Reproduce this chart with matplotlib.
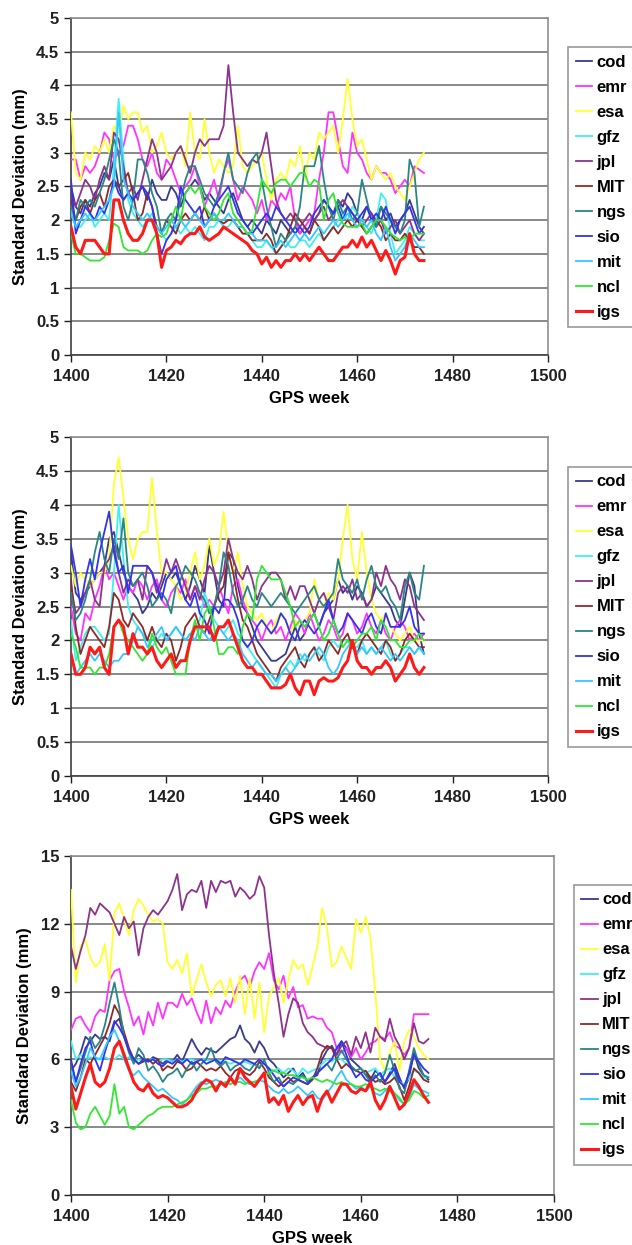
import numpy as np
import matplotlib
matplotlib.use("Agg")
import matplotlib.pyplot as plt

plt.rcParams['font.family'] = ['Liberation Sans', 'DejaVu Sans']
plt.rcParams['font.weight'] = 'bold'

weeks = np.arange(1400, 1475)

names = ["cod", "emr", "esa", "gfz", "jpl", "MIT", "ngs", "sio", "mit", "ncl", "igs"]
colors = ["#3a3a8c", "#ff33ff", "#ffff33", "#40f0f0", "#8c338c", "#8c2a2a",
          "#2a8585", "#3333ee", "#33c8ff", "#33e633", "#ff1a1a"]

# ---- top panel ----
cod1 = [2.5, 2.2, 2.1, 2.3, 2.2, 2.4, 2.5, 2.7, 2.6, 2.9, 2.5, 2.3, 2.4, 2.3, 2.4,
        2.5, 2.3, 2.6, 2.4, 2.3, 2.3, 2.5, 2.4, 2.2, 2.4, 2.5, 2.6, 2.5, 2.3, 2.4,
        2.3, 2.2, 2.1, 2.3, 2.4, 2.2, 2.0, 1.9, 2.0, 1.9, 1.8, 2.0, 1.9, 1.8, 2.0,
        1.9, 1.8, 1.9, 1.8, 1.9, 1.8, 2.0, 2.1, 2.3, 2.2, 2.1, 2.3, 2.2, 2.4, 2.3,
        2.1, 2.0, 2.2, 2.1, 2.0, 2.2, 2.0, 2.1, 1.9, 2.0, 2.1, 2.3, 2.1, 1.9, 1.8]
emr1 = [2.9, 2.9, 2.6, 2.8, 2.7, 2.8, 3.0, 3.3, 3.2, 2.9, 3.0, 3.1, 3.4, 3.4, 3.2,
        2.9, 2.8, 3.0, 2.7, 2.6, 2.9, 2.8, 2.6, 2.4, 2.5, 2.6, 2.8, 2.5, 2.2, 2.4,
        2.6, 2.3, 2.7, 2.9, 2.6, 2.3, 2.5, 2.4, 2.3, 2.1, 2.3, 2.0, 2.3, 2.2, 2.4,
        2.3, 2.5, 2.0, 1.8, 1.9, 2.0, 2.1, 2.6, 3.0, 3.6, 3.6, 3.2, 2.8, 2.7, 3.3,
        3.0, 2.9, 2.7, 2.6, 2.8, 2.7, 2.7, 2.6, 2.4, 2.5, 2.6, 2.5, 2.8, 2.75, 2.7]
esa1 = [3.6, 2.7, 2.6, 3.0, 2.9, 3.1, 3.0, 3.2, 3.0, 3.4, 3.3, 3.7, 3.5, 3.6, 3.6,
        3.3, 3.4, 3.0, 3.1, 3.3, 3.0, 2.9, 3.0, 3.1, 2.8, 3.6, 3.0, 2.9, 3.5, 3.0,
        2.7, 2.9, 2.8, 2.7, 2.8, 3.4, 2.8, 2.7, 2.8, 2.9, 3.0, 2.6, 2.3, 2.6, 2.7,
        2.6, 2.9, 2.8, 3.1, 2.6, 3.0, 2.9, 3.3, 3.2, 3.3, 3.4, 3.0, 3.5, 4.1, 3.5,
        3.1, 3.2, 2.9, 2.6, 2.8, 2.7, 2.6, 2.7, 2.5, 2.4, 2.3, 2.5, 2.7, 2.9, 3.0]
gfz1 = [2.2, 1.9, 1.9, 2.0, 2.1, 1.9, 2.0, 2.1, 2.0, 2.8, 3.8, 2.9, 2.3, 2.1, 2.0,
        1.9, 2.0, 2.1, 1.9, 1.8, 1.7, 1.8, 1.9, 1.8, 1.9, 1.8, 1.9, 1.8, 1.7, 1.9,
        1.9, 2.0, 1.9, 1.9, 2.0, 1.9, 1.8, 1.8, 1.7, 1.6, 1.6, 1.7, 1.6, 1.5, 1.6,
        1.7, 1.6, 1.6, 1.7, 1.7, 1.6, 1.7, 1.8, 1.7, 1.8, 1.9, 2.0, 2.1, 2.0, 2.2,
        2.1, 2.0, 1.9, 1.8, 2.0, 2.4, 2.3, 1.8, 1.5, 1.6, 1.7, 1.9, 1.8, 1.7, 1.7]
jpl1 = [2.4, 2.2, 2.4, 2.6, 2.5, 2.3, 2.6, 2.8, 2.6, 3.3, 3.2, 2.8, 2.4, 2.5, 2.3,
        2.6, 2.9, 3.2, 3.0, 2.6, 2.7, 2.8, 3.0, 3.1, 2.9, 2.7, 3.0, 3.2, 3.1, 3.2,
        3.2, 3.2, 3.4, 4.3, 3.6, 3.0, 2.9, 2.8, 2.9, 2.85, 3.0, 3.3, 2.8, 2.3, 2.1,
        2.0, 2.1, 2.0, 1.9, 2.0, 2.1, 2.0, 2.1, 2.2, 2.0, 2.1, 2.2, 2.3, 2.2, 2.1,
        2.0, 1.9, 2.0, 2.1, 1.9, 2.0, 1.8, 1.9, 2.0, 1.8, 1.9, 2.0, 1.8, 1.7, 1.8]
MIT1 = [2.3, 2.0, 2.2, 2.3, 2.1, 2.3, 2.4, 2.2, 2.5, 2.6, 2.5, 2.6, 2.7, 2.4, 2.0,
        2.1, 2.4, 2.2, 1.9, 1.8, 2.0, 1.9, 1.8, 2.0, 2.1, 2.0, 2.1, 2.0, 2.2, 2.0,
        2.1, 2.0, 1.95, 2.0, 2.0, 1.9, 1.8, 1.8, 1.7, 1.7, 1.7, 1.8, 1.7, 1.5, 1.6,
        1.7, 1.9, 2.1, 2.0, 1.9, 1.8, 2.0, 1.9, 1.7, 1.8, 1.9, 1.8, 1.9, 2.0, 1.9,
        2.0, 1.9, 1.8, 1.9, 2.0, 1.9, 1.7, 1.8, 1.7, 1.7, 1.8, 1.7, 1.6, 1.6, 1.5]
ngs1 = [2.2, 2.0, 2.3, 2.2, 2.3, 2.2, 2.4, 2.6, 2.9, 3.2, 3.0, 2.2, 2.0, 2.3, 2.9,
        2.9, 2.7, 2.4, 2.2, 1.8, 2.0, 2.1, 2.0, 2.3, 2.6, 2.8, 2.8, 2.6, 2.4, 2.3,
        2.2, 2.4, 2.7, 3.0, 2.6, 2.5, 2.4, 2.7, 2.9, 3.0, 2.6, 2.2, 1.9, 1.6, 1.8,
        1.7, 1.8, 1.9, 2.2, 2.8, 2.8, 2.8, 3.1, 2.6, 2.2, 2.0, 2.3, 2.1, 2.2, 2.0,
        2.1, 2.6, 2.3, 2.0, 1.9, 2.2, 2.1, 2.0, 1.9, 1.8, 2.0, 2.9, 2.7, 1.9, 2.2]
sio1 = [2.6, 1.8, 2.0, 2.2, 2.1, 2.0, 2.2, 2.1, 2.3, 2.6, 2.4, 2.3, 2.4, 2.3, 2.4,
        2.5, 2.4, 2.2, 1.8, 1.5, 1.7, 1.8, 2.0, 2.5, 2.3, 2.2, 2.1, 2.2, 1.9, 2.0,
        2.2, 2.3, 2.4, 2.5, 2.3, 2.1, 2.0, 1.9, 1.8, 1.9, 2.0, 2.1, 2.0, 2.2, 2.1,
        2.0, 1.9, 1.8, 1.9, 1.8, 1.9, 2.1, 2.2, 2.3, 2.2, 2.1, 2.2, 2.0, 2.2, 2.1,
        2.0, 2.1, 2.2, 2.0, 2.1, 2.0, 2.2, 2.0, 1.8, 2.0, 2.1, 2.2, 2.0, 1.8, 1.9]
mit1 = [2.1, 1.9, 2.0, 2.1, 2.0, 2.0, 2.1, 2.2, 2.3, 2.5, 3.6, 2.6, 2.4, 2.2, 2.1,
        2.0, 2.1, 2.0, 1.9, 1.8, 1.9, 2.0, 1.9, 2.0, 1.9, 2.0, 2.1, 2.0, 1.9, 2.0,
        2.1, 2.0, 2.0, 2.1, 2.0, 1.9, 1.9, 1.8, 1.8, 1.7, 1.7, 1.7, 1.6, 1.6, 1.7,
        1.6, 1.7, 1.8, 1.7, 1.8, 1.7, 1.8, 1.9, 1.8, 1.9, 2.0, 1.9, 2.0, 2.1, 2.0,
        1.9, 2.0, 1.9, 2.0, 1.8, 1.7, 1.9, 1.6, 1.4, 1.5, 1.6, 1.8, 1.7, 1.6, 1.6]
ncl1 = [1.8, 1.5, 1.5, 1.45, 1.4, 1.4, 1.4, 1.45, 1.7, 1.95, 1.9, 1.6, 1.55, 1.55, 1.55,
        1.5, 1.55, 1.7, 1.8, 1.75, 1.8, 2.0, 2.2, 2.0, 2.4, 2.5, 2.4, 2.5, 2.2, 2.1,
        2.0, 2.1, 2.3, 2.4, 2.1, 2.0, 1.9, 1.8, 1.85, 2.2, 2.6, 2.5, 2.4, 2.55, 2.6,
        2.6, 2.5, 2.6, 2.7, 2.7, 2.5, 2.6, 2.55, 2.0, 2.3, 2.4, 2.1, 1.95, 1.9, 1.9,
        1.9, 1.95, 1.8, 1.9, 2.0, 2.0, 1.9, 1.8, 1.75, 1.7, 1.75, 1.7, 1.8, 1.8, 1.8]
igs1 = [1.9, 1.6, 1.5, 1.7, 1.7, 1.7, 1.6, 1.5, 1.5, 2.3, 2.3, 2.0, 1.8, 1.7, 1.7,
        1.8, 2.0, 2.0, 1.8, 1.3, 1.55, 1.6, 1.7, 1.65, 1.75, 1.8, 1.8, 1.9, 1.75, 1.7,
        1.75, 1.8, 1.9, 1.85, 1.8, 1.75, 1.7, 1.65, 1.55, 1.5, 1.35, 1.45, 1.3, 1.4, 1.3,
        1.4, 1.4, 1.5, 1.4, 1.5, 1.4, 1.5, 1.6, 1.5, 1.4, 1.4, 1.5, 1.6, 1.6, 1.7,
        1.6, 1.75, 1.6, 1.7, 1.55, 1.4, 1.55, 1.4, 1.2, 1.4, 1.45, 1.8, 1.5, 1.4, 1.4]

# ---- middle panel ----
cod2 = [3.3, 2.7, 2.6, 2.7, 2.8, 2.9, 3.0, 3.1, 3.5, 3.6, 3.3, 3.0, 2.8, 2.7, 2.6,
        2.4, 2.5, 2.7, 2.6, 2.8, 3.0, 2.9, 3.0, 2.8, 2.6, 2.8, 3.1, 2.9, 2.7, 3.4,
        3.0, 2.6, 2.5, 3.3, 3.2, 2.8, 2.5, 2.4, 2.2, 2.0, 1.9, 1.8, 1.7, 1.7, 1.75,
        1.8, 2.0, 2.2, 2.0, 2.1, 2.3, 2.4, 2.2, 2.4, 2.5, 2.6, 2.9, 2.7, 2.8, 2.6,
        2.8, 2.7, 2.5, 2.6, 2.8, 2.7, 2.6, 2.5, 2.3, 2.2, 2.6, 3.0, 2.8, 2.1, 1.8]
emr2 = [2.5, 2.1, 2.0, 2.4, 2.3, 2.6, 2.8, 3.1, 2.9, 3.0, 2.8, 2.6, 2.8, 2.7, 2.9,
        2.8, 2.6, 2.8, 2.9, 2.6, 2.5, 2.7, 2.8, 2.7, 2.9, 2.6, 2.8, 2.7, 2.5, 2.6,
        2.5, 2.8, 2.6, 2.4, 2.8, 2.9, 2.6, 2.4, 2.3, 2.2, 2.0, 2.2, 2.3, 2.1, 2.2,
        2.0, 2.2, 2.4, 2.3, 2.1, 2.4, 2.2, 2.0, 2.1, 2.3, 2.2, 2.0, 2.1, 2.4, 2.3,
        2.1, 2.2, 2.4, 2.2, 2.1, 2.3, 2.1, 2.0, 2.2, 2.3, 2.2, 2.0, 2.1, 2.0, 2.1]
esa2 = [3.1, 2.8, 3.0, 2.9, 2.8, 2.9, 3.0, 3.0, 3.2, 4.3, 4.7, 4.1, 3.5, 3.2, 3.5,
        3.6, 3.6, 4.4, 3.6, 3.0, 3.0, 2.9, 2.8, 2.6, 2.7, 3.0, 3.3, 2.9, 3.1, 3.5,
        3.1, 3.3, 3.9, 3.3, 3.0, 3.3, 2.8, 2.5, 2.4, 2.3, 2.4, 2.2, 2.1, 2.3, 2.4,
        2.3, 2.1, 2.3, 2.2, 2.3, 2.4, 2.9, 2.6, 2.5, 2.7, 2.6, 2.9, 3.5, 4.0, 3.2,
        2.9, 3.6, 3.0, 2.6, 2.4, 2.3, 2.4, 2.2, 2.1, 2.0, 2.1, 2.2, 2.0, 2.0, 2.0]
gfz2 = [2.3, 1.7, 1.9, 2.1, 2.2, 2.2, 2.1, 2.0, 2.1, 3.0, 4.0, 3.2, 2.5, 2.3, 2.2,
        2.1, 2.0, 1.9, 2.0, 2.1, 2.0, 2.1, 2.2, 2.1, 2.0, 2.1, 2.2, 2.3, 2.7, 2.5,
        2.3, 2.2, 2.1, 2.2, 2.3, 2.1, 2.0, 1.9, 1.8, 1.7, 1.6, 1.5, 1.4, 1.3, 1.5,
        1.6, 1.7, 1.6, 1.8, 1.7, 1.8, 1.9, 1.8, 1.7, 1.9, 2.0, 1.9, 2.0, 2.0, 1.9,
        1.9, 2.0, 1.8, 1.9, 1.8, 1.9, 2.0, 1.8, 1.7, 1.8, 1.9, 1.9, 1.8, 1.9, 1.8]
jpl2 = [2.8, 2.4, 2.5, 2.7, 2.9, 2.6, 2.5, 3.1, 3.2, 3.4, 3.0, 2.7, 2.9, 2.8, 2.9,
        2.6, 3.1, 3.0, 2.7, 2.9, 3.2, 3.0, 3.2, 3.0, 2.8, 2.6, 2.8, 2.6, 2.9, 3.1,
        3.0, 2.8, 3.0, 3.5, 3.2, 3.0, 2.9, 3.1, 2.9, 2.6, 2.8, 2.9, 3.0, 3.0, 2.9,
        2.6, 2.8, 2.6, 2.8, 2.8, 2.6, 2.4, 2.6, 2.7, 2.5, 2.3, 2.7, 2.8, 2.7, 2.9,
        2.6, 2.7, 2.5, 2.6, 3.0, 2.8, 3.1, 2.9, 2.8, 2.6, 2.9, 2.8, 2.5, 2.4, 2.3]
MIT2 = [2.9, 2.2, 1.8, 2.0, 2.2, 2.1, 2.0, 1.9, 2.2, 2.7, 2.6, 2.3, 2.2, 2.4, 2.3,
        2.2, 2.0, 2.2, 2.0, 1.9, 2.1, 2.0, 1.7, 1.9, 2.2, 2.3, 2.4, 2.2, 2.1, 2.3,
        2.5, 2.7, 2.8, 3.3, 3.0, 2.6, 2.3, 2.2, 2.0, 1.8, 1.7, 1.6, 1.5, 1.4, 1.6,
        1.7, 1.8, 1.9, 1.7, 1.6, 1.8, 1.9, 1.7, 1.8, 2.0, 1.9, 1.8, 2.0, 2.1, 1.9,
        1.8, 2.0, 2.1, 2.0, 1.9, 1.8, 2.0, 1.9, 1.7, 1.8, 2.0, 2.1, 2.0, 1.9, 1.9]
ngs2 = [2.7, 2.3, 2.4, 2.6, 2.9, 3.3, 3.6, 3.2, 3.0, 3.5, 3.2, 3.8, 3.0, 2.8, 2.9,
        3.0, 2.8, 2.5, 2.6, 2.7, 2.6, 2.4, 2.8, 2.9, 3.1, 3.0, 2.9, 2.7, 2.6, 2.4,
        2.5, 2.8, 3.3, 3.1, 2.7, 2.5, 2.6, 2.8, 2.6, 2.5, 2.7, 2.6, 2.5, 2.6, 2.7,
        2.6, 2.5, 2.4, 2.5, 2.6, 2.7, 2.8, 2.6, 2.5, 2.6, 2.7, 3.2, 2.9, 2.8, 2.7,
        2.9, 2.6, 2.9, 3.1, 2.8, 2.7, 2.8, 2.6, 2.5, 2.3, 2.8, 3.0, 2.7, 2.6, 3.1]
sio2 = [3.4, 3.0, 2.5, 2.9, 3.2, 2.9, 3.3, 3.6, 3.9, 3.3, 3.0, 3.1, 2.7, 3.1, 3.1,
        3.1, 3.1, 3.0, 2.8, 2.6, 2.9, 3.0, 3.1, 2.8, 2.6, 2.5, 2.7, 2.4, 2.3, 2.1,
        2.5, 2.4, 2.6, 2.6, 2.5, 2.3, 2.0, 1.9, 2.0, 2.2, 2.3, 2.2, 2.1, 2.2, 2.4,
        2.3, 2.1, 2.0, 2.2, 2.3, 2.2, 2.1, 2.2, 2.4, 2.6, 2.3, 2.1, 2.2, 2.4, 2.3,
        2.2, 2.1, 2.3, 2.4, 2.2, 2.1, 2.4, 2.2, 2.2, 2.2, 2.3, 2.5, 2.2, 2.1, 2.1]
mit2 = [1.8, 1.5, 1.6, 1.7, 1.8, 1.7, 1.8, 1.7, 1.6, 1.7, 1.7, 1.8, 1.8, 2.0, 2.2,
        2.1, 1.9, 2.0, 2.1, 2.2, 2.0, 2.1, 2.2, 2.1, 2.0, 2.1, 2.0, 2.2, 2.1, 2.0,
        2.1, 2.2, 2.1, 2.0, 2.1, 2.0, 1.8, 1.7, 1.6, 1.7, 1.6, 1.5, 1.5, 1.4, 1.5,
        1.6, 1.5, 1.6, 1.7, 1.8, 1.7, 1.8, 1.9, 1.8, 1.6, 1.5, 1.6, 1.8, 1.9, 2.0,
        1.8, 1.9, 1.8, 1.9, 1.8, 1.9, 1.8, 1.7, 1.8, 1.7, 1.8, 1.9, 1.8, 1.9, 1.8]
ncl2 = [2.1, 1.9, 1.6, 1.6, 1.6, 1.5, 1.6, 1.6, 1.8, 2.2, 2.3, 2.1, 2.0, 1.9, 1.8,
        1.7, 1.8, 2.1, 1.9, 1.8, 1.9, 1.7, 1.5, 1.5, 1.5, 2.0, 2.3, 2.0, 2.4, 2.5,
        2.2, 1.8, 1.8, 1.9, 1.9, 1.8, 2.2, 2.4, 2.3, 2.9, 3.1, 3.0, 2.9, 2.9, 2.9,
        2.7, 2.5, 2.2, 2.3, 2.2, 2.3, 2.4, 2.2, 2.0, 2.1, 2.3, 2.1, 1.9, 2.0, 1.9,
        2.0, 2.1, 2.1, 2.2, 2.0, 2.3, 2.2, 2.0, 2.0, 1.9, 1.9, 2.0, 2.0, 2.1, 2.0]
igs2 = [1.8, 1.5, 1.5, 1.6, 1.9, 1.8, 1.9, 1.6, 1.5, 2.2, 2.3, 2.2, 1.8, 2.1, 1.9,
        1.9, 1.8, 1.9, 1.7, 1.6, 1.7, 1.8, 1.6, 1.7, 1.7, 2.0, 2.2, 2.2, 2.2, 2.2,
        2.0, 2.2, 2.2, 2.3, 2.1, 1.9, 1.7, 1.6, 1.6, 1.5, 1.5, 1.4, 1.3, 1.3, 1.3,
        1.35, 1.5, 1.3, 1.2, 1.4, 1.4, 1.2, 1.4, 1.45, 1.4, 1.4, 1.45, 1.6, 1.7, 2.0,
        1.7, 1.6, 1.6, 1.5, 1.6, 1.6, 1.7, 1.6, 1.4, 1.5, 1.6, 1.8, 1.6, 1.5, 1.6]

# ---- bottom panel ----
cod3 = [5.5, 5.8, 6.3, 7.0, 6.8, 7.1, 6.9, 7.0, 6.8, 7.6, 7.8, 7.0, 6.4, 6.0, 6.2,
        6.0, 5.9, 6.1, 6.0, 5.8, 6.0, 5.9, 6.2, 5.9, 6.4, 6.9, 6.5, 6.2, 6.5, 6.4,
        6.3, 6.5, 6.7, 6.9, 7.0, 7.5, 6.9, 6.7, 6.3, 6.8, 6.5, 6.0, 5.8, 5.5, 5.2,
        5.4, 5.6, 5.2, 5.4, 5.0, 5.2, 5.3, 6.0, 6.4, 6.6, 6.2, 6.8, 6.5, 6.0, 5.8,
        5.6, 5.4, 5.1, 5.5, 5.3, 5.0, 5.4, 5.8, 5.2, 4.7, 5.2, 6.3, 5.6, 5.3, 5.1]
emr3 = [7.3, 7.8, 7.9, 7.5, 7.2, 7.9, 8.2, 8.1, 9.5, 9.9, 10.0, 9.0, 8.3, 7.5, 7.9,
        7.1, 8.1, 7.5, 8.5, 7.8, 8.5, 8.5, 8.3, 8.9, 8.4, 8.7, 8.1, 7.6, 8.6, 7.6,
        8.3, 8.0, 8.6, 8.3, 9.0, 9.5, 9.7, 9.2, 9.9, 10.3, 10.0, 10.7, 9.5, 9.1, 9.7,
        8.7, 9.2, 8.3, 8.4, 7.8, 7.9, 7.8, 7.8, 7.4, 7.2, 6.5, 6.3, 6.5, 6.1, 6.5,
        6.0, 6.3, 6.7, 6.8, 7.0, 6.9, 7.2, 6.6, 6.5, 6.2, 6.5, 8.0, 8.0, 8.0, 8.0]
esa3 = [13.5, 9.4, 11.0, 11.3, 10.5, 10.1, 10.3, 11.1, 9.5, 12.5, 12.9, 12.2, 11.5, 12.6, 13.1,
        12.8, 12.4, 12.1, 12.2, 12.0, 10.3, 10.0, 10.4, 9.8, 10.7, 8.8, 9.5, 10.2, 9.4, 8.8,
        9.3, 9.5, 8.8, 9.6, 8.5, 9.7, 8.0, 9.6, 7.8, 9.4, 7.2, 8.8, 9.2, 9.6, 8.5,
        9.5, 10.4, 10.0, 10.2, 9.3, 10.1, 11.0, 12.7, 11.8, 10.1, 10.3, 11.0, 10.5, 10.0, 12.2,
        11.6, 12.3, 11.4, 9.0, 6.0, 5.5, 6.3, 6.8, 5.5, 6.8, 7.3, 7.0, 6.5, 6.2, 6.0]
gfz3 = [6.8, 6.0, 6.2, 6.0, 6.1, 6.0, 6.0, 6.1, 6.0, 6.0, 6.2, 6.0, 6.1, 5.9, 6.0,
        5.9, 6.0, 6.0, 5.9, 6.0, 6.0, 5.9, 6.0, 5.9, 6.0, 6.0, 5.9, 6.0, 6.0, 5.9,
        6.0, 5.9, 5.9, 5.8, 5.9, 5.8, 5.9, 5.8, 5.8, 5.7, 5.8, 5.6, 5.5, 5.6, 5.4,
        5.6, 5.5, 5.3, 5.6, 5.4, 5.5, 5.6, 5.8, 6.0, 5.9, 6.1, 6.0, 5.8, 5.7, 5.5,
        5.6, 5.4, 5.5, 5.6, 5.3, 5.5, 5.6, 5.2, 5.0, 4.9, 5.2, 5.5, 5.4, 5.2, 5.2]
jpl3 = [11.0, 10.0, 10.8, 11.5, 12.7, 12.4, 12.9, 12.7, 12.5, 12.0, 11.5, 12.3, 11.8, 12.1, 10.6,
        11.8, 12.3, 12.6, 12.4, 12.7, 13.0, 13.5, 14.2, 12.6, 13.3, 13.5, 13.4, 13.9, 12.7, 13.9,
        13.4, 13.9, 13.8, 13.9, 13.2, 13.6, 13.4, 13.1, 13.3, 14.1, 13.6, 11.5, 9.8, 8.5, 7.0,
        8.0, 8.7, 8.5, 7.6, 7.2, 7.0, 6.7, 6.6, 6.5, 6.5, 6.2, 6.6, 6.8, 6.2, 7.0,
        6.5, 7.2, 6.3, 7.4, 7.0, 6.8, 7.8, 7.0, 6.6, 6.0, 6.5, 7.6, 6.8, 6.7, 6.9]
MIT3 = [5.0, 4.6, 5.2, 6.0, 5.8, 6.2, 6.6, 7.0, 7.6, 8.4, 8.0, 7.2, 6.5, 6.0, 5.8,
        5.9, 6.0, 5.8, 6.0, 5.5, 5.7, 5.6, 5.9, 5.8, 5.5, 5.6, 5.9, 5.7, 5.5, 5.6,
        5.5, 5.7, 5.4, 5.2, 5.5, 5.6, 5.4, 5.3, 5.5, 5.9, 5.6, 5.2, 5.0, 4.8, 5.0,
        5.2, 5.0, 5.1, 5.0, 4.9, 5.1, 5.6, 6.3, 6.6, 6.5, 6.0, 5.6, 5.8, 5.6, 5.5,
        5.4, 5.5, 5.2, 5.0, 5.1, 4.9, 5.0, 5.2, 4.8, 4.2, 4.8, 5.6, 5.4, 5.1, 5.0]
ngs3 = [5.8, 5.0, 5.6, 6.3, 7.0, 6.5, 6.8, 7.5, 8.5, 9.4, 8.3, 7.0, 6.3, 5.8, 6.5,
        6.2, 5.5, 5.7, 5.4, 5.0, 5.3, 5.4, 5.6, 5.2, 5.6, 5.9, 5.5, 5.8, 6.0, 6.5,
        5.9, 5.7, 5.9, 5.5, 5.7, 5.8, 5.6, 5.5, 5.8, 5.6, 6.0, 5.4, 5.0, 5.2, 4.8,
        5.0, 4.9, 5.1, 5.3, 5.0, 5.2, 5.4, 5.6, 5.8, 5.5, 6.0, 6.4, 6.0, 5.7, 5.5,
        5.6, 5.3, 5.0, 5.3, 5.0, 5.4, 6.2, 5.5, 4.7, 4.5, 5.5, 6.5, 5.8, 5.3, 5.2]
sio3 = [6.0, 5.0, 5.8, 6.5, 6.8, 6.0, 5.5, 6.3, 7.0, 7.7, 7.4, 7.0, 6.4, 6.0, 5.8,
        6.0, 5.9, 6.0, 5.8, 5.7, 5.9, 5.8, 6.0, 5.8, 6.0, 5.8, 5.9, 6.0, 5.8, 5.9,
        6.0, 5.8, 6.1, 6.0, 5.9, 5.8, 6.0, 5.9, 5.8, 6.0, 5.8, 5.6, 5.3, 5.0, 4.8,
        5.0, 5.2, 5.1, 5.0, 4.9, 5.2, 5.4, 5.6, 5.8, 6.0, 6.5, 6.8, 6.2, 5.6, 5.2,
        5.4, 5.1, 5.0, 5.2, 5.4, 5.0, 5.3, 5.6, 5.0, 4.8, 5.4, 6.2, 5.9, 5.6, 5.4]
mit3 = [5.5, 4.8, 5.2, 5.8, 6.5, 6.1, 6.0, 6.5, 7.0, 7.3, 6.8, 6.0, 5.5, 5.3, 5.5,
        5.2, 5.0, 4.8, 4.6, 4.7, 4.5, 4.3, 4.2, 4.0, 4.2, 4.5, 4.8, 5.0, 4.9, 5.0,
        5.1, 5.0, 4.9, 5.1, 5.0, 5.2, 5.0, 4.9, 5.0, 5.1, 5.0, 4.8, 4.6, 4.5, 4.7,
        4.5, 4.6, 4.8, 4.6, 4.4, 4.6, 4.3, 4.2, 4.5, 4.8, 5.2, 5.5, 5.1, 4.9, 4.7,
        4.8, 4.6, 4.8, 4.5, 4.4, 4.6, 4.8, 4.5, 4.2, 4.0, 4.3, 4.9, 4.7, 4.6, 4.5]
ncl3 = [4.2, 3.2, 2.9, 3.0, 3.6, 3.9, 3.5, 3.1, 3.5, 4.9, 3.6, 3.9, 3.0, 2.9, 3.1,
        3.3, 3.5, 3.6, 3.8, 3.9, 3.9, 3.9, 4.0, 4.1, 4.2, 4.4, 4.5, 4.7, 4.7, 4.8,
        4.8, 4.9, 5.0, 4.9, 5.0, 5.0, 4.9, 5.0, 5.0, 5.1, 5.3, 5.4, 5.5, 5.4, 5.4,
        5.3, 5.3, 5.2, 5.2, 5.1, 5.2, 5.1, 5.0, 5.1, 5.0, 4.9, 5.0, 4.9, 4.9, 4.8,
        4.8, 4.9, 4.8, 4.7, 4.6, 4.7, 4.6, 4.5, 4.3, 4.0, 4.2, 4.6, 4.5, 4.3, 4.4]
igs3 = [4.8, 3.8, 4.5, 5.2, 5.8, 5.0, 4.8, 5.0, 5.6, 6.5, 6.8, 6.2, 5.6, 5.0, 4.7,
        4.6, 4.9, 4.5, 4.3, 4.4, 4.3, 4.1, 3.9, 3.9, 4.0, 4.2, 4.6, 4.9, 5.1, 5.0,
        4.6, 5.0, 4.8, 5.2, 4.9, 5.6, 5.2, 5.0, 4.8, 5.1, 5.4, 4.1, 4.3, 4.0, 4.4,
        3.7, 4.1, 4.4, 4.0, 4.3, 4.4, 3.7, 4.3, 4.6, 4.1, 4.5, 4.9, 4.9, 4.6, 4.5,
        4.7, 4.6, 5.0, 4.2, 3.8, 4.2, 4.8, 4.3, 3.8, 4.0, 4.5, 5.1, 4.8, 4.4, 4.1]

panel1 = [cod1, emr1, esa1, gfz1, jpl1, MIT1, ngs1, sio1, mit1, ncl1, igs1]
panel2 = [cod2, emr2, esa2, gfz2, jpl2, MIT2, ngs2, sio2, mit2, ncl2, igs2]
panel3 = [cod3, emr3, esa3, gfz3, jpl3, MIT3, ngs3, sio3, mit3, ncl3, igs3]

fig = plt.figure(figsize=(6.32, 12.45), dpi=100)

# axes rectangles and legend anchors (figure fraction)
axes_pos = [[0.1123, 0.7149, 0.7547, 0.2707],
            [0.1123, 0.3767, 0.7547, 0.2723],
            [0.1123, 0.0402, 0.7643, 0.2723]]
leg_pos = [(0.899, 0.9622), (0.899, 0.6249), (0.908, 0.2892)]
ylims = [(0, 5), (0, 5), (0, 15)]
yticks = [np.arange(0, 5.01, 0.5), np.arange(0, 5.01, 0.5), np.arange(0, 15.1, 3)]

for k, data in enumerate([panel1, panel2, panel3]):
    ax = fig.add_axes(axes_pos[k])
    for i in range(len(names)):
        lw = 2.2 if names[i] == "igs" else 1.3
        ax.plot(weeks, data[i], color=colors[i], lw=lw, label=names[i],
                solid_joinstyle='round', zorder=3 + (i == 10))
    ax.set_xlim(1400, 1500)
    ax.set_ylim(*ylims[k])
    ax.set_xticks(np.arange(1400, 1501, 20))
    ax.set_yticks(yticks[k])
    ax.set_yticklabels(["%g" % v for v in yticks[k]])
    ax.yaxis.grid(True, color="#808080", lw=1.3)
    ax.set_axisbelow(True)
    for s in ["top", "right"]:
        ax.spines[s].set_color("#909090")
        ax.spines[s].set_linewidth(1.2)
    for s in ["left", "bottom"]:
        ax.spines[s].set_color("#404040")
        ax.spines[s].set_linewidth(1.2)
    ax.tick_params(axis='both', direction='out', length=5, width=1.0,
                   labelsize=12, colors="#202020")
    ax.tick_params(axis='x', pad=5)
    for lab in ax.get_xticklabels() + ax.get_yticklabels():
        lab.set_fontweight('bold')
    ax.set_xlabel("GPS week", fontsize=12, fontweight="bold", labelpad=5)
    ax.set_ylabel("Standard Deviation (mm)", fontsize=12, fontweight="bold", labelpad=6)
    leg = fig.legend(*ax.get_legend_handles_labels(), loc="upper left",
                     bbox_to_anchor=leg_pos[k], bbox_transform=fig.transFigure,
                     prop={'weight': 'bold', 'size': 12},
                     frameon=True, fancybox=False, edgecolor="#808080",
                     handlelength=1.0, handletextpad=0.25, labelspacing=0.6,
                     borderpad=0.45, borderaxespad=0)
    leg.get_frame().set_linewidth(1.2)

plt.savefig("out.png", dpi=100)
